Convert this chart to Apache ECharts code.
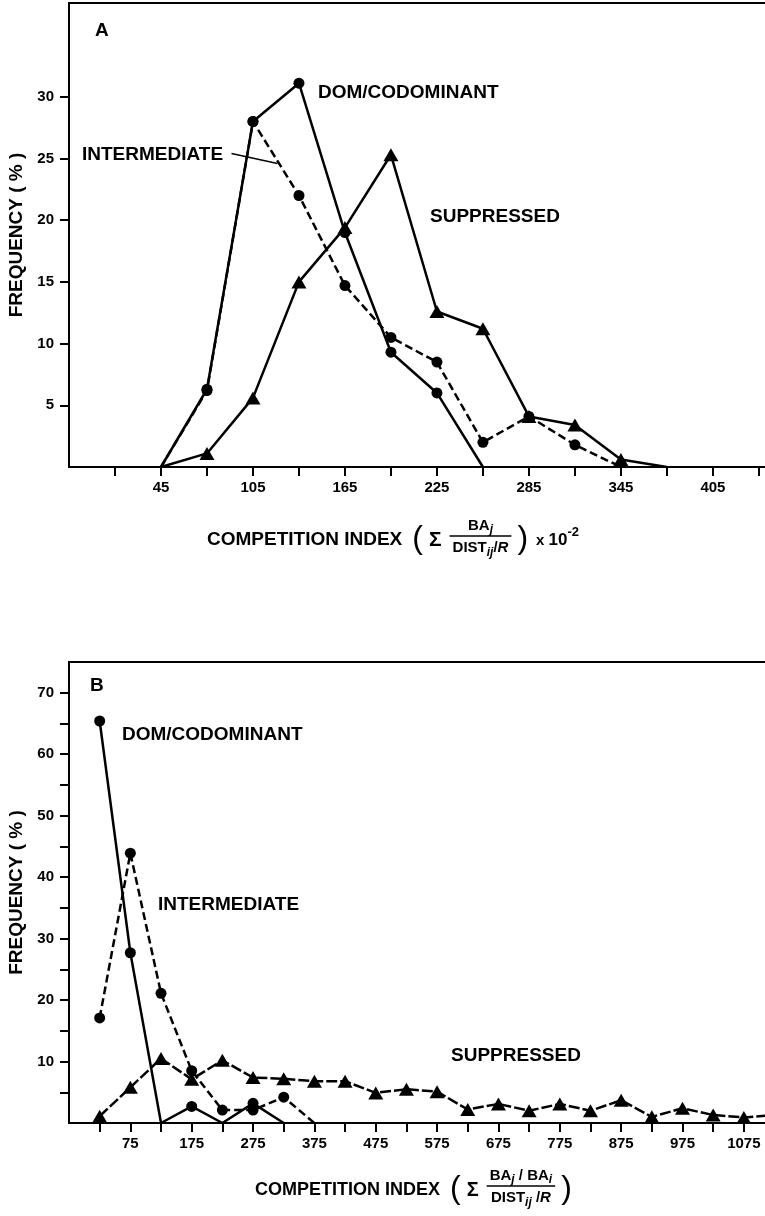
<!DOCTYPE html>
<html>
<head>
<meta charset="UTF-8">
<title>Competition index frequency by crown class</title>
<script src="https://cdn.jsdelivr.net/npm/echarts@6/dist/echarts.min.js"></script>
<style>
    html, body { margin: 0; padding: 0; background: #fff; }
    #chart { width: 765px; height: 1216px; }
</style>
</head>
<body>
<div id="chart"></div>
<script>
// panel A: competition index classes (x 10^-2)
const classesA = [45, 75, 105, 135, 165, 195, 225, 255, 285, 315, 345, 375];
const domA = [0, 6.3, 28.0, 31.1, 19.0, 9.3, 6.0, 0];
const intA = [0, 6.2, 28.0, 22.0, 14.7, 10.5, 8.5, 2.0, 4.1, 1.8, 0];
const supA = [0, 1.1, 5.6, 15.0, 19.4, 25.3, 12.6, 11.2, 4.1, 3.4, 0.6, 0];
const xTicksA = [15, 45, 75, 105, 135, 165, 195, 225, 255, 285, 315, 345, 375, 405, 435];
const xLabelsA = [45, 105, 165, 225, 285, 345, 405];
const yTicksA = [5, 10, 15, 20, 25, 30];

// panel B
const classesB = [25, 75, 125, 175, 225, 275, 325, 375, 425, 475, 525, 575, 625, 675, 725, 775, 825, 875, 925, 975, 1025, 1075, 1125];
const domB = [65.4, 27.7, 0, 2.7, 0, 3.2, 0];
const intB = [17.1, 43.9, 21.1, 8.5, 2.1, 2.1, 4.2, 0];
const supB = [1.1, 5.8, 10.5, 7.1, 10.2, 7.4, 7.2, 6.8, 6.8, 4.9, 5.5, 5.1, 2.2, 3.1, 2.0, 3.1, 2.0, 3.7, 1.0, 2.4, 1.3, 0.9, 1.3];
const xTicksB = [25, 75, 125, 175, 225, 275, 325, 375, 425, 475, 525, 575, 625, 675, 725, 775, 825, 875, 925, 975, 1025, 1075];
const xLabelsB = [75, 175, 275, 375, 475, 575, 675, 775, 875, 975, 1075];
const yTicksB = [5, 10, 15, 20, 25, 30, 35, 40, 45, 50, 55, 60, 65, 70];
const yLabelsB = [10, 20, 30, 40, 50, 60, 70];

const FONT = '"Liberation Sans", Arial, sans-serif';
const chart = echarts.init(document.getElementById('chart'));

// zero end points are drawn without a marker
function pts(xs, ys) {
    return ys.map((v, i) => v === 0 ? { value: [xs[i], v], symbol: 'none' } : [xs[i], v]);
}

function line(name, xi, xs, ys, symbol, dashed, extra) {
    return Object.assign({
        name: name,
        type: 'line',
        xAxisIndex: xi,
        yAxisIndex: xi,
        data: pts(xs, ys),
        symbol: symbol,
        symbolSize: symbol === 'triangle' ? [15, 13] : 11,
        itemStyle: { color: '#000' },
        lineStyle: { color: '#000', width: 2.5, type: dashed ? dashed : 'solid' },
        clip: true
    }, extra || {});
}

function xAxis(gi, min, max, ticks, labels) {
    return {
        type: 'value', gridIndex: gi, min: min, max: max,
        axisLine: { onZero: false, lineStyle: { color: '#000', width: 2 } },
        axisTick: { customValues: ticks, length: 9, lineStyle: { color: '#000', width: 2 } },
        axisLabel: {
            customValues: labels, margin: 13, color: '#000', fontSize: 15, fontWeight: 'bold', fontFamily: FONT,
            formatter: v => String(v)
        },
        splitLine: { show: false }
    };
}

function yAxis(gi, max, ticks, labels) {
    return {
        type: 'value', gridIndex: gi, min: 0, max: max,
        name: 'FREQUENCY ( % )', nameLocation: 'middle', nameRotate: 90, nameGap: 41,
        nameTextStyle: { color: '#000', fontSize: 19, fontWeight: 'bold', fontFamily: FONT },
        axisLine: { onZero: false, lineStyle: { color: '#000', width: 2 } },
        axisTick: { customValues: ticks, length: 9, lineStyle: { color: '#000', width: 2 } },
        axisLabel: {
            customValues: labels, margin: 15, color: '#000', fontSize: 15, fontWeight: 'bold', fontFamily: FONT,
            formatter: v => String(v)
        },
        splitLine: { show: false }
    };
}

// text helpers for the axis titles with fractions
const mctx = document.createElement('canvas').getContext('2d');
function fontStr(size, italic, weight) {
    return (italic ? 'italic ' : '') + (weight || 'bold') + ' ' + size + 'px ' + FONT;
}
function textW(t, size, italic, weight) {
    mctx.font = fontStr(size, italic, weight);
    return mctx.measureText(t).width;
}
function txt(t, x, y, size, italic, weight) {
    return {
        type: 'text', x: x, y: y, silent: true,
        style: {
            text: t, fill: '#000', fontSize: size, fontFamily: FONT,
            fontWeight: weight || 'bold', fontStyle: italic ? 'italic' : 'normal',
            align: 'left', verticalAlign: 'middle', textAlign: 'left', textVerticalAlign: 'middle'
        }
    };
}
function row(parts, x, cy, out) {
    parts.forEach(p => {
        out.push(txt(p[0], x, cy + (p[3] || 0), p[1], p[2], p[4]));
        x += textW(p[0], p[1], p[2], p[4]);
    });
    return x;
}
function rowW(parts) {
    return parts.reduce((s, p) => s + textW(p[0], p[1], p[2], p[4]), 0);
}
function axisTitle(x, cy, size, num, den, tail) {
    const out = [];
    x = row([['COMPETITION INDEX', size]], x, cy, out) + 10;
    x = row([['(', 32, false, 0, 'normal']], x, cy - 1, out) + 6;
    x = row([['Σ', size + 2]], x, cy, out) + 8;
    const nw = rowW(num), dw = rowW(den), w = Math.max(nw, dw) + 6;
    row(num, x + (w - nw) / 2, cy - 14, out);
    row(den, x + (w - dw) / 2, cy + 8, out);
    out.push({ type: 'line', silent: true, shape: { x1: x, y1: cy - 4, x2: x + w, y2: cy - 4 }, style: { stroke: '#000', lineWidth: 1.5 } });
    x += w + 6;
    x = row([[')', 32, false, 0, 'normal']], x, cy - 1, out) + 8;
    if (tail) row(tail, x, cy, out);
    return out;
}

const titleA = axisTitle(207, 540, 19,
    [['BA', 15], ['j', 12, true, 4]],
    [['DIST', 15], ['ij', 12, true, 5], ['/', 15], ['R', 15, true]],
    [['x ', 15, false, 1], ['10', 17], ['-2', 13, false, -8]]);
const titleB = axisTitle(255, 1190, 18,
    [['BA', 15], ['j', 12, true, 4], [' / ', 15], ['BA', 15], ['i', 12, true, 4]],
    [['DIST', 15], ['ij', 12, true, 5], [' /', 15], ['R', 15, true]],
    null);

const labels = [
    txt('A', 95, 31, 19),
    txt('DOM/CODOMINANT', 318, 93, 19),
    txt('INTERMEDIATE', 82, 155, 19),
    txt('SUPPRESSED', 430, 217, 19),
    txt('B', 90, 686, 19),
    txt('DOM/CODOMINANT', 122, 735, 19),
    txt('INTERMEDIATE', 158, 905, 19),
    txt('SUPPRESSED', 451, 1056, 19)
];

chart.setOption({
    animation: false,
    backgroundColor: '#fff',
    // plot areas run past the right edge of the page, as in the cropped figure
    grid: [
        { left: 69, top: 3, width: 700, height: 464, outerBoundsMode: 'none', show: true, borderColor: '#000', borderWidth: 2 },
        { left: 69, top: 662, width: 700, height: 461, outerBoundsMode: 'none', show: true, borderColor: '#000', borderWidth: 2 }
    ],
    xAxis: [
        xAxis(0, -15, 441.6, xTicksA, xLabelsA),
        xAxis(1, -25, 1116, xTicksB, xLabelsB)
    ],
    yAxis: [
        yAxis(0, 37.6, yTicksA, yTicksA),
        yAxis(1, 75, yTicksB, yLabelsB)
    ],
    series: [
        line('DOM/CODOMINANT', 0, classesA, domA, 'circle', null),
        line('INTERMEDIATE', 0, classesA, intA, 'circle', [8, 4], {
            markLine: {
                silent: true, symbol: ['none', 'arrow'], symbolSize: [0, 9],
                label: { show: false },
                lineStyle: { color: '#000', width: 1.5, type: 'solid' },
                data: [[{ coord: [91, 25.4] }, { coord: [121, 24.6] }]]
            }
        }),
        line('SUPPRESSED', 0, classesA, supA, 'triangle', null),
        line('DOM/CODOMINANT', 1, classesB, domB, 'circle', null),
        line('INTERMEDIATE', 1, classesB, intB, 'circle', [8, 4]),
        line('SUPPRESSED', 1, classesB, supB, 'triangle', [11, 3])
    ],
    graphic: labels.concat(titleA, titleB)
});
</script>
</body>
</html>
